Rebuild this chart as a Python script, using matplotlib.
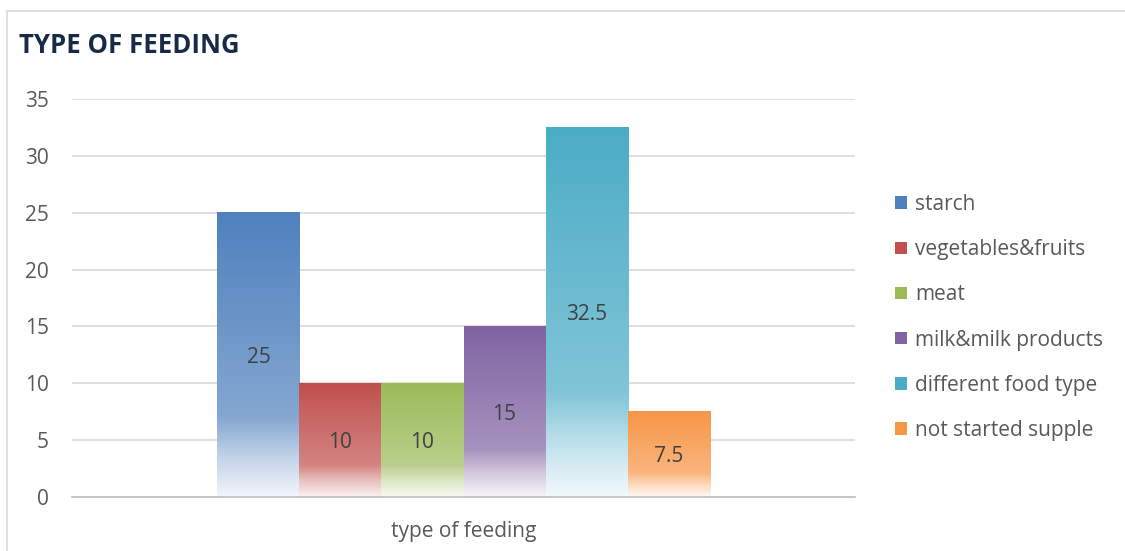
import matplotlib
matplotlib.use("Agg")
import matplotlib.pyplot as plt
import numpy as np
from matplotlib.colors import to_rgb
from matplotlib.patches import Rectangle, Patch

categories = ["starch", "vegetables&fruits", "meat", "milk&milk products",
              "different food type", "not started supple"]
values = [25, 10, 10, 15, 32.5, 7.5]
labels = ["25", "10", "10", "15", "32.5", "7.5"]
colors = ["#4F81BD", "#C0504D", "#9BBB59", "#8064A2", "#4BACC6", "#F79646"]
yticks = [0, 5, 10, 15, 20, 25, 30, 35]
xlabel = "type of feeding"
title = "TYPE OF FEEDING"

plt.rcParams['font.family'] = ['Open Sans', 'DejaVu Sans']

W, H = 1125, 551
fig = plt.figure(figsize=(W / 100, H / 100), dpi=100)
ax = fig.add_axes([72 / W, 1 - 497 / H, (855 - 72) / W, (497 - 99) / H])

# figure border
fig.patches.append(Rectangle((7 / W, -0.1), 1.2, 1 - 11 / H + 0.1,
                             transform=fig.transFigure, fill=False,
                             edgecolor="#D9D9D9", linewidth=1.2))

def gradient(c, n=256):
    c = np.array(to_rgb(c))
    t = np.linspace(0, 1, n)
    stops_t = [0.0, 0.72, 0.86, 1.0]
    stops_w = [0.0, 0.30, 0.65, 0.93]
    w = np.interp(t, stops_t, stops_w)
    rgb = c[None, :] * (1 - w[:, None]) + w[:, None]
    return rgb[:, None, :]

n = len(values)
x = np.arange(n)
for xi, v, c, lab in zip(x, values, colors, labels):
    ax.imshow(gradient(c), extent=[xi - 0.5, xi + 0.5, 0, v], aspect='auto',
              interpolation='bilinear', zorder=2)
    ax.text(xi, v / 2, lab, ha='center', va='center_baseline', fontsize=15,
            color="#404040", zorder=3)

ax.set_xlim(2.5 - 4.774, 2.5 + 4.774)
ax.set_ylim(0, 35)
ax.set_yticks(yticks)
ax.set_yticklabels([str(t) for t in yticks], fontsize=15, color="#595959")
ax.yaxis.grid(True, color="#D9D9D9", linewidth=1.2, zorder=0)
ax.set_axisbelow(True)
ax.tick_params(axis='y', length=0, pad=16.5)
ax.set_xticks([])
for s in ["top", "right", "left"]:
    ax.spines[s].set_visible(False)
ax.spines["bottom"].set_color("#BFBFBF")
ax.spines["bottom"].set_linewidth(1.2)

fig.text(463.5 / W, 1 - 532 / H, xlabel, fontsize=15, color="#595959",
         ha='center', va='center')

fig.text(19 / W, 1 - 53 / H, title, fontsize=18.5, fontweight='bold',
         color="#172B46", ha='left', va='baseline')

handles = [Patch(facecolor=c, edgecolor='none') for c in colors]
leg = fig.legend(handles, categories, loc='upper left',
                 bbox_to_anchor=(895 / W, 1 - 194 / H), frameon=False,
                 borderaxespad=0, borderpad=0,
                 fontsize=15, labelcolor="#595959", handlelength=0.58,
                 handleheight=0.55, handletextpad=0.38, labelspacing=1.16)

fig.savefig("out.png", dpi=100)
